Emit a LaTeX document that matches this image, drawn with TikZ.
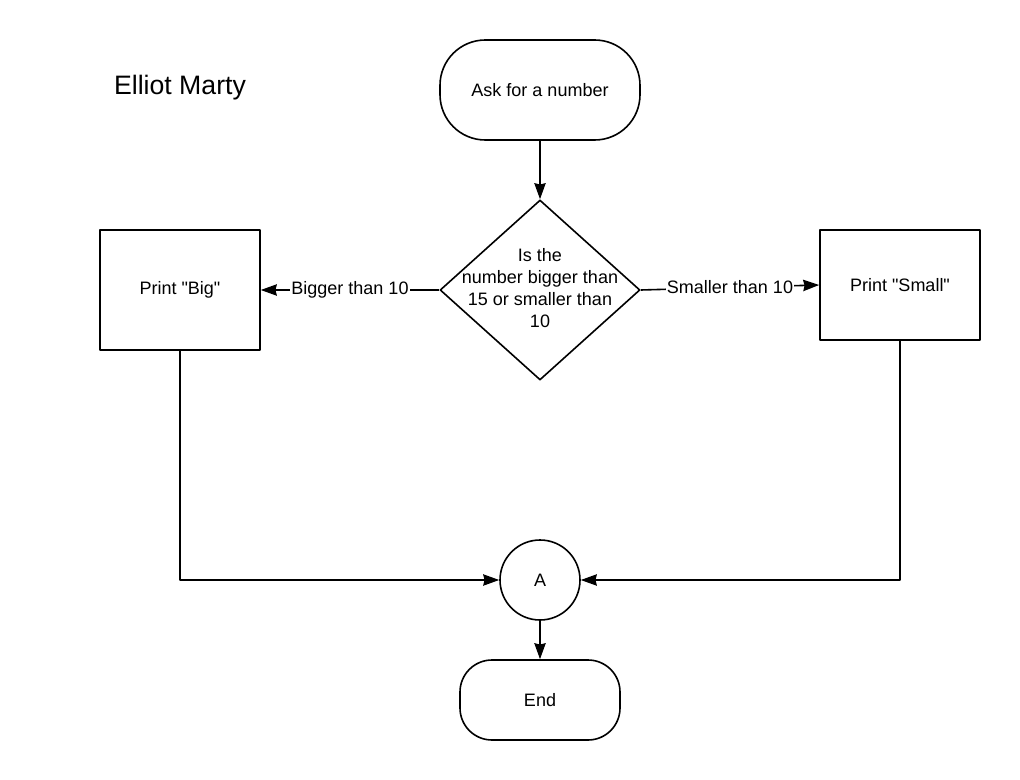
\documentclass[tikz,border=0pt]{standalone}
\usepackage{fontspec}
\setmainfont{Liberation Sans}
\usetikzlibrary{arrows.meta,positioning,shapes.geometric}

\tikzset{
  terminal/.style={draw, line width=1.2pt, rounded corners=34pt, minimum width=150pt, minimum height=75pt},
  decision/.style={draw, diamond, line width=1.2pt, inner sep=0pt, minimum width=150pt, minimum height=135pt},
  printbox/.style={draw, line width=1.2pt, minimum width=120pt},
  connector/.style={draw, circle, line width=1.2pt, minimum size=60pt, inner sep=0pt},
  branch/.style={fill=white, inner sep=1pt}
}

\begin{document}
\begin{tikzpicture}[x=0.75pt, y=-0.75pt, >={Stealth[length=12pt,width=8.5pt,inset=1pt]}, line join=round, font=\fontsize{13.5}{16.5}\selectfont]
    \useasboundingbox (0,0) rectangle (1020,780);
    \node (title) at (180,88) {\fontsize{20}{24}\selectfont Elliot Marty};
    % flow
    \node[terminal] (ask) at (540,90) {Ask for a number};
    \node[decision] (q) at (540,290) {};
    \node[align=center] (qtext) at (540,288) {Is the\\number bigger than\\15 or smaller than\\10};
    \node[printbox, minimum height=90pt] (big) at (180,290) {Print \textquotedbl Big\textquotedbl};
    \node[printbox, minimum height=82.5pt] (small) at (900,285) {Print \textquotedbl Small\textquotedbl};
    \node[connector] (a) at (540,580) {A};
    \node[terminal, rounded corners=24pt, minimum width=120pt, minimum height=60pt] (end) at (540,700) {End};

    \draw[line width=1.2pt, ->] (ask) -- (q);
    \draw[line width=1.2pt, ->] (q.west) -- node[branch] (lbig) {Bigger than 10} (big.east);
    \draw[line width=1.2pt, ->] (q.east) -- node[branch] (lsmall) {Smaller than 10} (small.west);
    \draw[line width=1.2pt, ->] (big.south) |- (a.west);
    \draw[line width=1.2pt, ->] (small.south) |- (a.east);
    \draw[line width=1.2pt, ->] (a) -- (end);
  \end{tikzpicture}
\end{document}
